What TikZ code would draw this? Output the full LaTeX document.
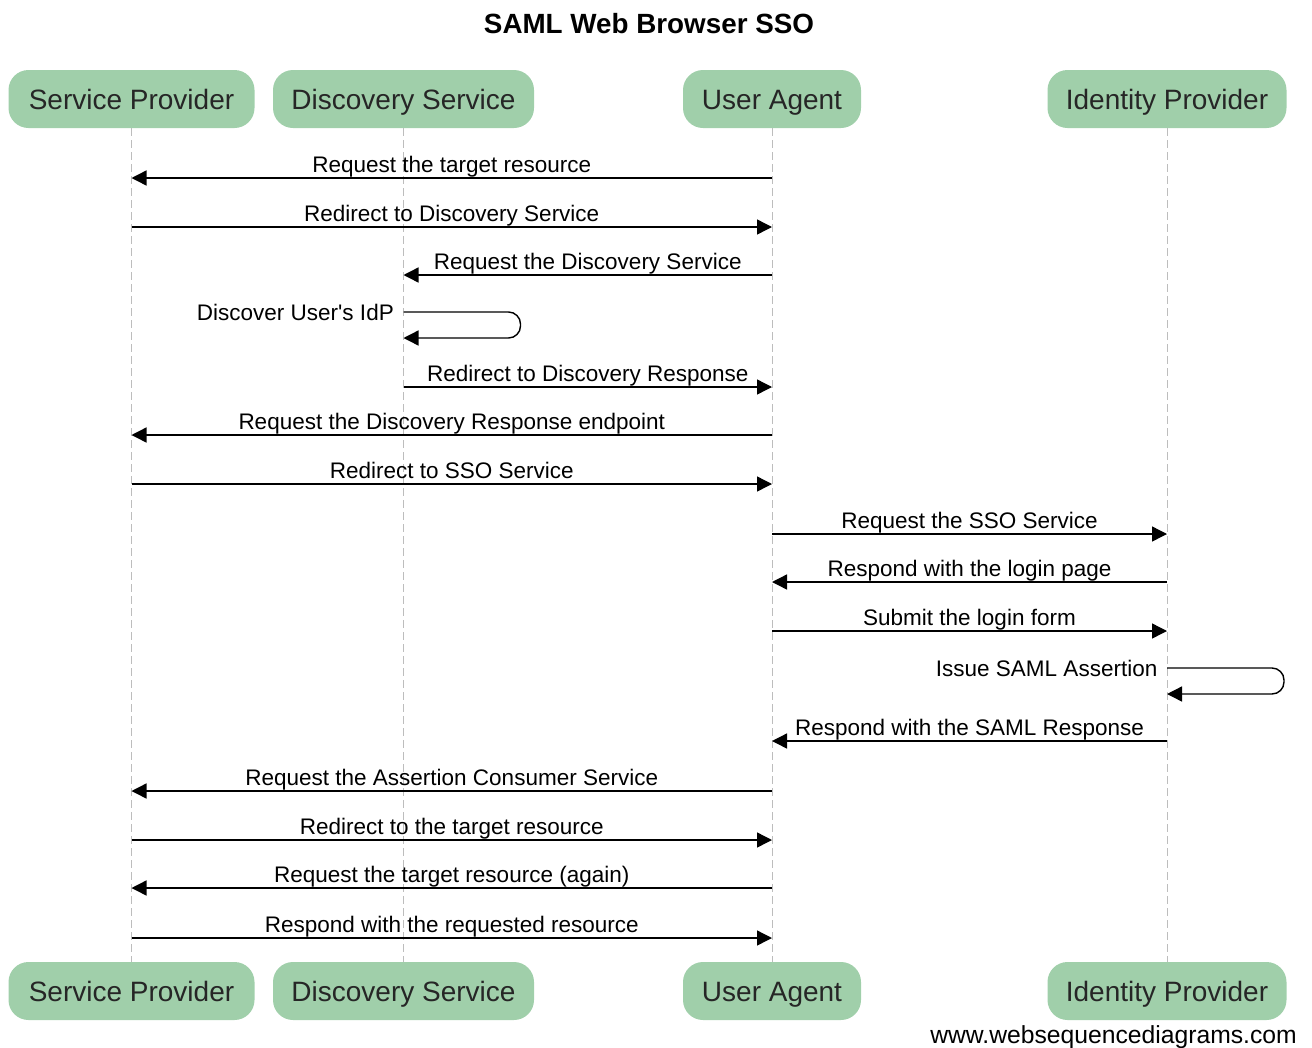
\documentclass[tikz,border=0pt]{standalone}
\usepackage{fontspec}
\setmainfont{Liberation Sans}[Ligatures=TeXOff]
\usetikzlibrary{arrows.meta}
\definecolor{actorfill}{HTML}{A0CFAA}
\definecolor{lifegray}{HTML}{BDBDBD}
\begin{document}
\begin{tikzpicture}[x=1pt,y=-1pt,
  actor/.style={draw=none, fill=actorfill, rounded corners=20pt, minimum height=58pt,
    inner sep=0pt, text height=20pt, text depth=0pt,
    font=\fontsize{28}{32}\selectfont, text=black!85},
  lifeline/.style={draw=lifegray, line width=1pt, dash pattern=on 8pt off 4pt},
  msg/.style={draw=black, line width=1.4pt, -{Triangle[length=15pt,width=15pt]}},
  lbl/.style={font=\fontsize{22.5}{26}\selectfont, anchor=base, inner sep=0pt, yshift=5.5pt},
  selflbl/.style={font=\fontsize{22.5}{26}\selectfont, anchor=east, inner sep=0pt, xshift=-9pt},
  loopmsg/.style={msg, rounded corners=12pt}]
\useasboundingbox (0,0) rectangle (1312,1047);

% title
\node[font=\fontsize{27.8}{30}\selectfont\bfseries] (title) at (649,24) {SAML Web Browser SSO};

% participants, top and bottom
\node[actor, minimum width=246pt] (spH)  at (131.5,99)  {Service Provider};
\node[actor, minimum width=261pt] (dsH)  at (403.5,99)  {Discovery Service};
\node[actor, minimum width=178pt] (uaH)  at (772,99)    {User Agent};
\node[actor, minimum width=239pt] (idpH) at (1167,99)   {Identity Provider};
\node[actor, minimum width=246pt] (spF)  at (131.5,991) {Service Provider};
\node[actor, minimum width=261pt] (dsF)  at (403.5,991) {Discovery Service};
\node[actor, minimum width=178pt] (uaF)  at (772,991)   {User Agent};
\node[actor, minimum width=239pt] (idpF) at (1167,991)  {Identity Provider};

% lifelines
\draw[lifeline] (spH.south)  -- (spF.north);
\draw[lifeline] (dsH.south)  -- (dsF.north);
\draw[lifeline] (uaH.south)  -- (uaF.north);
\draw[lifeline] (idpH.south) -- (idpF.north);

% message rows
\coordinate (r1)  at (0,178);
\coordinate (r2)  at (0,227);
\coordinate (r3)  at (0,275);
\coordinate (r4)  at (0,312);
\coordinate (r4b) at (0,338);
\coordinate (r5)  at (0,387);
\coordinate (r6)  at (0,435);
\coordinate (r7)  at (0,484);
\coordinate (r8)  at (0,534);
\coordinate (r9)  at (0,582);
\coordinate (r10) at (0,631);
\coordinate (r11) at (0,668);
\coordinate (r11b) at (0,694);
\coordinate (r12) at (0,741);
\coordinate (r13) at (0,791);
\coordinate (r14) at (0,840);
\coordinate (r15) at (0,888);
\coordinate (r16) at (0,938);

\draw[msg] (uaH |- r1) -- node[lbl] {Request the target resource} (spH |- r1);
\draw[msg] (spH |- r2) -- node[lbl] {Redirect to Discovery Service} (uaH |- r2);
\draw[msg] (uaH |- r3) -- node[lbl] {Request the Discovery Service} (dsH |- r3);
\draw[loopmsg] (dsH |- r4) node[selflbl] {Discover User's IdP}
  -- ([xshift=117pt]dsH |- r4) -- ([xshift=117pt]dsH |- r4b) -- (dsH |- r4b);
\draw[msg] (dsH |- r5) -- node[lbl] {Redirect to Discovery Response} (uaH |- r5);
\draw[msg] (uaH |- r6) -- node[lbl] {Request the Discovery Response endpoint} (spH |- r6);
\draw[msg] (spH |- r7) -- node[lbl] {Redirect to SSO Service} (uaH |- r7);
\draw[msg] (uaH |- r8) -- node[lbl] {Request the SSO Service} (idpH |- r8);
\draw[msg] (idpH |- r9) -- node[lbl] {Respond with the login page} (uaH |- r9);
\draw[msg] (uaH |- r10) -- node[lbl] {Submit the login form} (idpH |- r10);
\draw[loopmsg] (idpH |- r11) node[selflbl] {Issue SAML Assertion}
  -- ([xshift=117pt]idpH |- r11) -- ([xshift=117pt]idpH |- r11b) -- (idpH |- r11b);
\draw[msg] (idpH |- r12) -- node[lbl] {Respond with the SAML Response} (uaH |- r12);
\draw[msg] (uaH |- r13) -- node[lbl] {Request the Assertion Consumer Service} (spH |- r13);
\draw[msg] (spH |- r14) -- node[lbl] {Redirect to the target resource} (uaH |- r14);
\draw[msg] (uaH |- r15) -- node[lbl] {Request the target resource (again)} (spH |- r15);
\draw[msg] (spH |- r16) -- node[lbl] {Respond with the requested resource} (uaH |- r16);

% footer
\node[font=\fontsize{24.7}{28}\selectfont, anchor=base east, inner sep=0pt] (credit) at (1297,1043) {www.websequencediagrams.com};
\end{tikzpicture}
\end{document}
